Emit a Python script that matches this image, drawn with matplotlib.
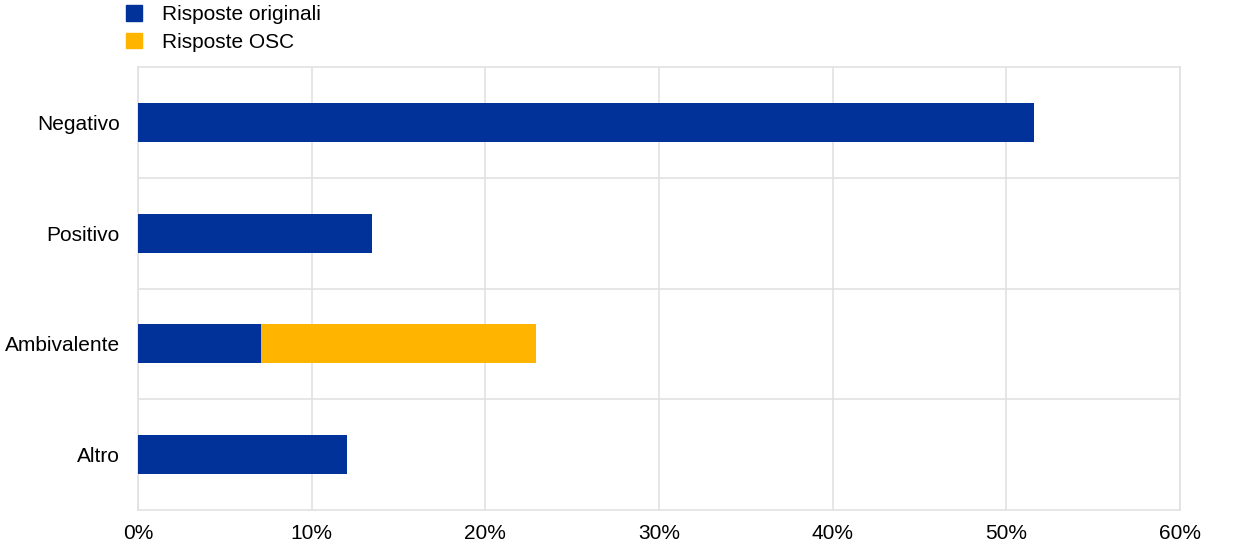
import matplotlib.pyplot as plt
from matplotlib.patches import Patch
from matplotlib.ticker import PercentFormatter

plt.rcParams['font.family'] = ['Liberation Sans', 'DejaVu Sans']

categories = ['Negativo', 'Positivo', 'Ambivalente', 'Altro']
original = [51.6, 13.5, 7.1, 12.05]
osc = [0, 0, 15.8, 0]
series_names = ['Risposte originali', 'Risposte OSC']

blue = '#003299'
yellow = '#FFB400'
grid_col = '#e1e1e1'

fig = plt.figure(figsize=(12.4, 5.56), dpi=100)
ax = fig.add_axes([138 / 1240, 46 / 556, 1042 / 1240, 443 / 556])

ypos = range(len(categories))
ax.barh(ypos, original, height=0.35, color=blue, zorder=3)
ax.barh(ypos, osc, left=original, height=0.35, color=yellow, zorder=3)

ax.set_xlim(0, 60)
ax.set_ylim(3.5, -0.5)
ax.set_xticks(range(0, 61, 10))
ax.xaxis.set_major_formatter(PercentFormatter(decimals=0))
ax.set_yticks(list(ypos))
ax.set_yticklabels(categories)
# separators between categories
ax.set_yticks([0.5, 1.5, 2.5], minor=True)
ax.grid(axis='x', which='major', color=grid_col, lw=1.2, zorder=0)
ax.grid(axis='y', which='minor', color=grid_col, lw=1.2, zorder=0)
ax.tick_params(which='both', length=0, labelsize=15, colors='black')
ax.tick_params(axis='x', pad=10)
ax.tick_params(axis='y', pad=13)
for s in ax.spines.values():
    s.set_color(grid_col)
    s.set_linewidth(1.2)

handles = [Patch(color=blue), Patch(color=yellow)]
fig.legend(handles, series_names, loc='upper left', bbox_to_anchor=(111 / 1240, 1.018),
           frameon=False, fontsize=15, handlelength=0.8, handleheight=0.8,
           handletextpad=0.95, labelspacing=0.42, borderpad=0.2)

fig.savefig('out.png')
